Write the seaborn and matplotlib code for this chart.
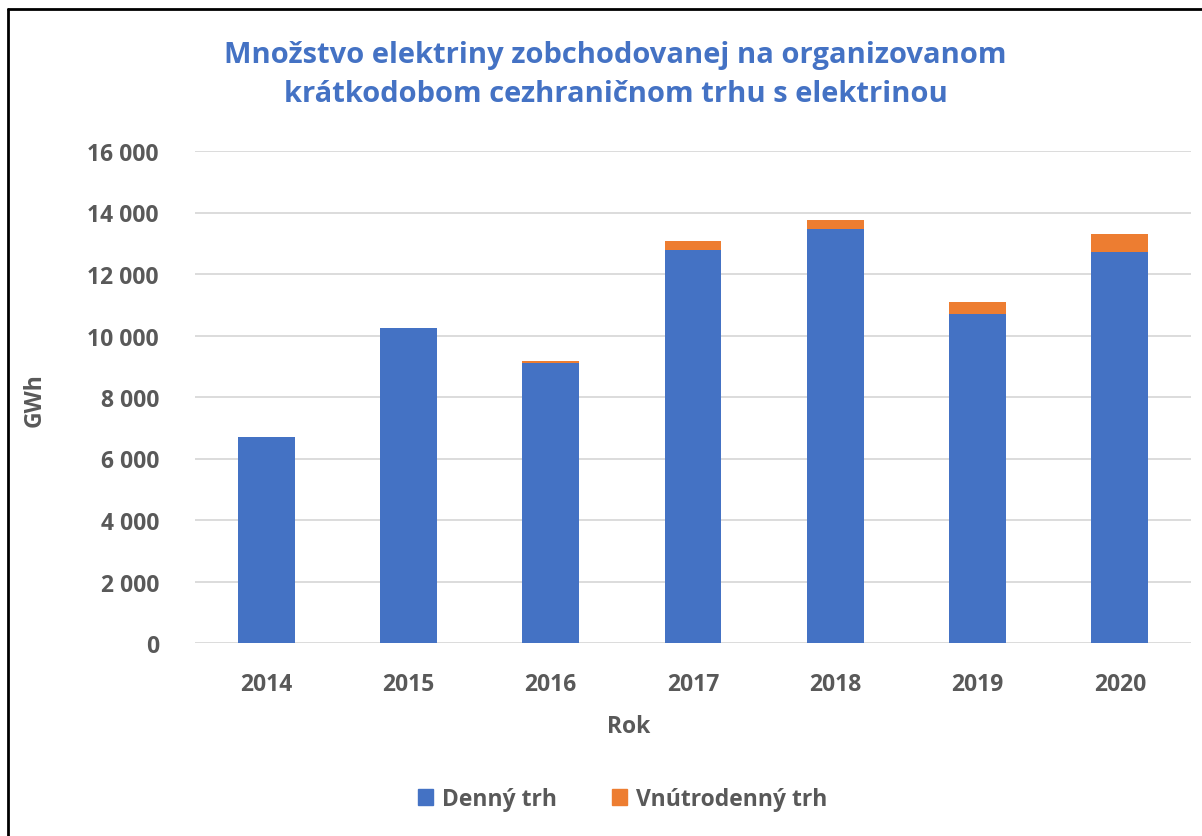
import matplotlib
matplotlib.use("Agg")
import matplotlib.pyplot as plt
import seaborn as sns
import pandas as pd
from matplotlib.patches import Patch
from matplotlib.lines import Line2D

years = ["2014", "2015", "2016", "2017", "2018", "2019", "2020"]
denny = [6700, 10260, 9115, 12790, 13460, 10710, 12715]
vnutrodenny = [0, 0, 45, 295, 295, 370, 575]

blue = "#4472C4"
orange = "#ED7D31"
gray = "#595959"

df = pd.DataFrame({"Rok": years, "Denný trh": denny, "Vnútrodenný trh": vnutrodenny})
df["total"] = df["Denný trh"] + df["Vnútrodenný trh"]

sns.set_style("white")
plt.rcParams['font.family'] = ['Open Sans', 'DejaVu Sans']

fig = plt.figure(figsize=(12.02, 8.37), dpi=100)
ax = fig.add_axes([195 / 1202, 1 - 644 / 837, 996 / 1202, 492 / 837])

# stacked: total in orange, daily market on top in blue
sns.barplot(data=df, x="Rok", y="total", color=orange, width=0.4, ax=ax,
            saturation=1, linewidth=0)
sns.barplot(data=df, x="Rok", y="Denný trh", color=blue, width=0.4, ax=ax,
            saturation=1, linewidth=0)

ax.set_ylim(0, 16000)
ax.set_xlim(-0.5, 6.5)
ax.set_yticks(range(0, 16001, 2000))
ax.set_yticklabels([f"{v:,}".replace(",", " ") for v in range(0, 16001, 2000)])
ax.yaxis.grid(True, color="#D9D9D9", linewidth=1.3)
ax.set_axisbelow(True)
for s in ax.spines.values():
    s.set_visible(False)
ax.tick_params(axis="both", length=0, labelsize=16.5, labelcolor=gray)
ax.tick_params(axis="y", pad=26)
ax.tick_params(axis="x", pad=21)
for lab in ax.get_xticklabels() + ax.get_yticklabels():
    lab.set_fontweight("bold")

ax.set_xlabel("Rok", fontsize=16.5, fontweight="bold", color=gray)
ax.set_ylabel("GWh", fontsize=16.5, fontweight="bold", color=gray)
ax.xaxis.set_label_coords(0.435, -0.144)
ax.yaxis.set_label_coords(-0.149, 0.496)

fig.text(0.512, 1 - 75 / 837,
         "Množstvo elektriny zobchodovanej na organizovanom\nkrátkodobom cezhraničnom trhu s elektrinou",
         ha="center", va="center", fontsize=21, fontweight="bold", color=blue,
         linespacing=1.5)

handles = [Patch(color=blue, label="Denný trh"), Patch(color=orange, label="Vnútrodenný trh")]
leg = fig.legend(handles=handles, loc="center", bbox_to_anchor=(0.518, 1 - 800 / 837),
                 ncol=2, frameon=False, fontsize=16.5, handlelength=0.65, handleheight=0.65,
                 handletextpad=0.4, columnspacing=2.4)
for t in leg.get_texts():
    t.set_color(gray)
    t.set_fontweight("bold")

# chart border (left and top edges visible)
fig.add_artist(Line2D([8 / 1202, 8 / 1202], [0, 1 - 10 / 837], transform=fig.transFigure,
                      color="black", linewidth=2))
fig.add_artist(Line2D([8 / 1202, 1], [1 - 10 / 837, 1 - 10 / 837], transform=fig.transFigure,
                      color="black", linewidth=2))

fig.savefig("out.png", dpi=100)
